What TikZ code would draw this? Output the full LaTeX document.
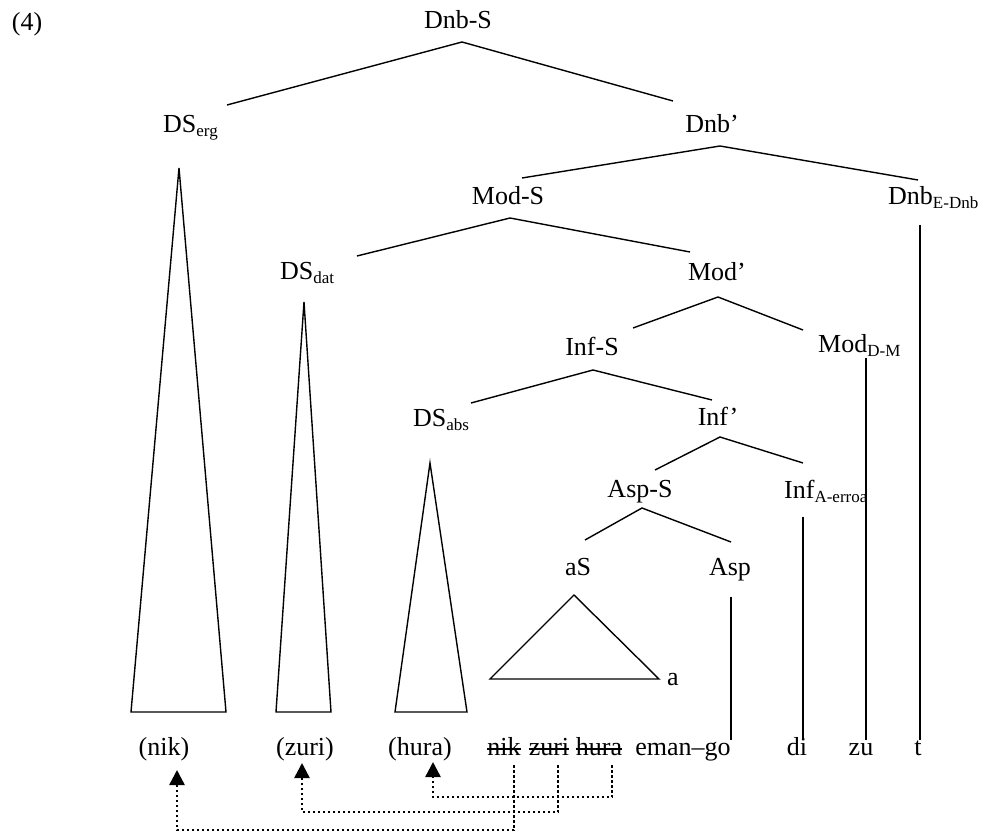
\documentclass[tikz,border=0pt]{standalone}
\usepackage{fontspec}
\setmainfont{Liberation Serif}
\usetikzlibrary{arrows.meta,calc}
\newcommand\lsub[1]{\raisebox{-4pt}{\fontsize{17}{20}\selectfont #1}}
\begin{document}
\begin{tikzpicture}[x=1pt,y=-1pt,
  lab/.style={inner sep=0pt, anchor=base, font=\fontsize{26}{30}\selectfont},
  labw/.style={lab, anchor=base west},
  br/.style={line width=1.4pt},
  tri/.style={line width=1.4pt, line join=miter},
  strike/.style={line width=1.4pt},
  mv/.style={line width=2.5pt, dash pattern=on 2.5pt off 2.5pt, -{Triangle[length=15pt,width=15pt]}}]
\useasboundingbox (0,0) rectangle (1002,834);

% labels
\node[lab] (ex) at (27,31) {(4)};
\node[lab] (DnbS) at (458,29) {Dnb-S};
\node[labw] (DSerg) at (163,133) {DS\lsub{erg}};
\node[lab] (Dnbp) at (712,133) {Dnb’};
\node[lab] (ModS) at (508,205) {Mod-S};
\node[labw] (DnbE) at (888,205) {Dnb\lsub{E-Dnb}};
\node[labw] (DSdat) at (280,280) {DS\lsub{dat}};
\node[lab] (Modp) at (717,281) {Mod’};
\node[lab] (InfS) at (592,356) {Inf-S};
\node[labw] (ModDM) at (818,353) {Mod\lsub{D-M}};
\node[labw] (DSabs) at (413,427) {DS\lsub{abs}};
\node[lab] (Infp) at (718,425) {Inf’};
\node[lab] (AspS) at (640,497) {Asp-S};
\node[labw] (InfA) at (784,498) {Inf\lsub{A-erroa}};
\node[lab] (aS) at (578,575) {aS};
\node[lab] (Asp) at (730,575) {Asp};
\node[lab] (a) at (673,685) {a};

% words
\node[lab] (w1) at (164,755) {(nik)};
\node[lab] (w2) at (305,755) {(zuri)};
\node[lab] (w3) at (420,755) {(hura)};
\node[lab] (w4) at (504,755) {nik};
\node[lab] (w5) at (549,755) {zuri};
\node[lab] (w6) at (599,755) {hura};
\node[lab] (w7) at (683,755) {eman–go};
\node[lab] (w8) at (797,755) {di};
\node[lab] (w9) at (861,755) {zu};
\node[lab] (w10) at (918,755) {t};
\foreach \w in {w4,w5,w6}
  \draw[strike] ([yshift=6pt]\w.base west) -- ([yshift=6pt]\w.base east);

% branch points
\coordinate (DnbS-f) at (462,42);
\coordinate (DSerg-t) at (227,105);
\coordinate (Dnbp-t) at (673,101);
\coordinate (Dnbp-f) at (720,146);
\coordinate (ModS-t) at (522,178);
\coordinate (DnbE-t) at (918,180);
\coordinate (ModS-f) at (510,218);
\coordinate (DSdat-t) at (357,256);
\coordinate (Modp-t) at (690,252);
\coordinate (Modp-f) at (718,297);
\coordinate (InfS-t) at (633,328);
\coordinate (ModDM-t) at (803,330);
\coordinate (InfS-f) at (593,370);
\coordinate (DSabs-t) at (471,403);
\coordinate (Infp-t) at (712,400);
\coordinate (Infp-f) at (720,437);
\coordinate (AspS-t) at (655,470);
\coordinate (InfA-t) at (803,463);
\coordinate (AspS-f) at (642,508);
\coordinate (aS-t) at (585,540);
\coordinate (Asp-t) at (731,542);

\draw[br] (DSerg-t) -- (DnbS-f) -- (Dnbp-t);
\draw[br] (ModS-t) -- (Dnbp-f) -- (DnbE-t);
\draw[br] (DSdat-t) -- (ModS-f) -- (Modp-t);
\draw[br] (InfS-t) -- (Modp-f) -- (ModDM-t);
\draw[br] (DSabs-t) -- (InfS-f) -- (Infp-t);
\draw[br] (AspS-t) -- (Infp-f) -- (InfA-t);
\draw[br] (aS-t) -- (AspS-f) -- (Asp-t);

% triangles
\draw[tri] (179,168) -- (226,712) -- (131,712) -- cycle;
\draw[tri] (304,302) -- (331,712) -- (276,712) -- cycle;
\draw[tri] (430,463) -- (467,712) -- (395,712) -- cycle;
\draw[tri] (574,595) -- (659,679) -- (490,679) -- cycle;

% vertical lines
\coordinate (Asp-v) at (731,597);
\coordinate (InfA-v) at (803,517);
\coordinate (ModDM-v) at (866,358);
\coordinate (DnbE-v) at (920,225);
\draw[br] (Asp-v) -- (Asp-v |- 0,740);
\draw[br] (InfA-v) -- (InfA-v |- 0,740);
\draw[br] (ModDM-v) -- (ModDM-v |- 0,740);
\draw[br] (DnbE-v) -- (DnbE-v |- 0,740);

% movement arrows
\coordinate (s6) at (612,765);
\coordinate (s5) at (558,765);
\coordinate (s4) at (514,765);
\coordinate (t3) at (433,762);
\coordinate (t2) at (302,763);
\coordinate (t1) at (177,770);
\draw[mv] (s6) -- ++(0,32) -| (t3);
\draw[mv] (s5) -- ++(0,47) -| (t2);
\draw[mv] (s4) -- ++(0,65) -| (t1);
\end{tikzpicture}
\end{document}
